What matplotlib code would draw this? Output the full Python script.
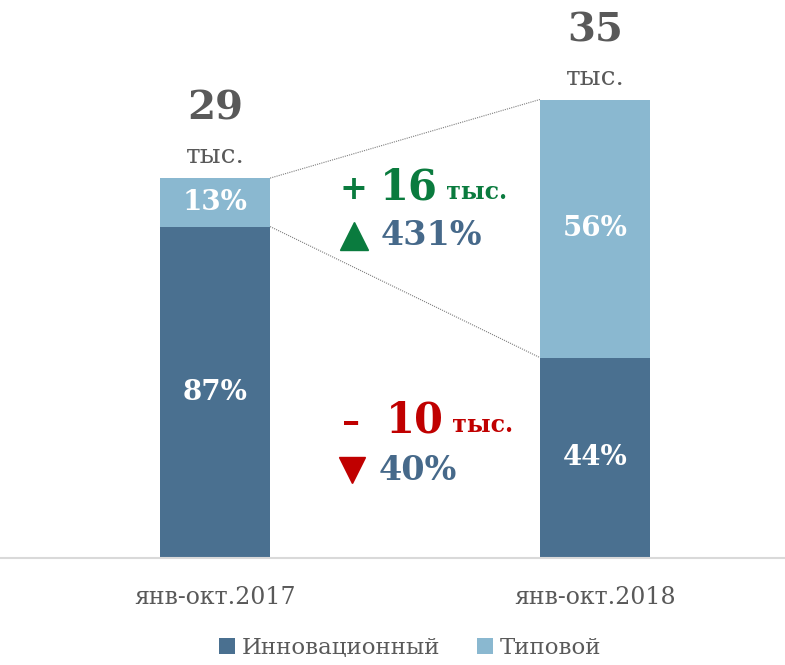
import matplotlib.pyplot as plt
from matplotlib.offsetbox import TextArea, HPacker, AnnotationBbox
import numpy as np

# values, thousand
periods = ["янв-окт.2017", "янв-окт.2018"]
innov = [25.3, 15.3]
typical = [3.7, 19.7]
innov_pct = ["87%", "44%"]
typical_pct = ["13%", "56%"]
totals = ["29", "35"]
series_names = ["Инновационный", "Типовой"]
delta_typ = ["+ ", "16", " тыс.", "431%"]
delta_inn = ["–  ", "10", " тыс.", "40%"]

dark = "#4A7090"
light = "#8AB8D0"
grey = "#595959"
green = "#0A7B3E"
red = "#C00000"
blue_txt = "#46698A"
FONT = "DejaVu Serif"
plt.rcParams["font.family"] = FONT

fig = plt.figure(figsize=(7.85, 6.65), dpi=100)
ax = fig.add_axes([0, 107 / 665, 1, 558 / 665])

x = np.arange(len(periods))
w = 0.29
totals_v = np.array(innov) + np.array(typical)

ax.bar(x, innov, w, color=dark, label=series_names[0])
ax.bar(x, typical, w, bottom=innov, color=light, label=series_names[1])

# connectors
ax.plot([x[0] + w / 2, x[1] - w / 2], [totals_v[0], totals_v[1]], ls=(0, (1, 1)), color="#7f7f7f", lw=0.8)
ax.plot([x[0] + w / 2, x[1] - w / 2], [innov[0], innov[1]], ls=(0, (1, 1)), color="#7f7f7f", lw=0.8)

for i in range(len(x)):
    ax.text(x[i], innov[i] / 2, innov_pct[i], ha="center", va="center", color="white",
            fontsize=20, fontweight="bold")
    ax.text(x[i], innov[i] + typical[i] / 2, typical_pct[i], ha="center", va="center", color="white",
            fontsize=20, fontweight="bold")
    ax.annotate(totals[i], (x[i], totals_v[i]), xytext=(0, 50), textcoords="offset points",
                ha="center", va="center", fontsize=29, fontweight="bold", color=grey)
    ax.annotate("тыс.", (x[i], totals_v[i]), xytext=(0, 16), textcoords="offset points",
                ha="center", va="center", fontsize=19, color=grey)


def delta_row(parts, color, xy, sizes):
    boxes = [TextArea(p, textprops=dict(color=color, fontsize=s, fontweight="bold", family=FONT))
             for p, s in zip(parts, sizes)]
    pack = HPacker(children=boxes, align="baseline", pad=0, sep=0)
    ab = AnnotationBbox(pack, xy, xycoords="data", box_alignment=(0, 0.5), frameon=False)
    ax.add_artist(ab)


def pct_row(marker, mcolor, txt, xy, ms):
    ax.plot(xy[0] + 0.035, xy[1], marker=marker, color=mcolor, ms=ms, ls="none")
    ax.text(xy[0] + 0.105, xy[1], txt, ha="left", va="center", color=blue_txt,
            fontsize=24, fontweight="bold")


delta_row(delta_typ[:3], green, (0.33, 28.3), [24, 30, 17])
pct_row("^", green, delta_typ[3], (0.33, 24.6), 20)
delta_row(delta_inn[:3], red, (0.335, 10.5), [26, 30, 17])
pct_row("v", red, delta_inn[3], (0.325, 6.7), 19)

ax.set_xlim(-215 / 380, 570 / 380)
ax.set_ylim(0, 558 / 13.1)
for s in ["top", "left", "right"]:
    ax.spines[s].set_visible(False)
ax.spines["bottom"].set_color("#d9d9d9")
ax.spines["bottom"].set_linewidth(1.5)
ax.set_yticks([])
ax.set_xticks(x)
ax.set_xticklabels(periods, fontsize=17, color=grey)
ax.tick_params(axis="x", length=0, pad=20)

fig.legend(loc="center", bbox_to_anchor=(410 / 785, 1 - 648 / 665), ncol=2, frameon=False,
           fontsize=16.5, handlelength=0.7, handleheight=0.7, handletextpad=0.3, columnspacing=1.6,
           labelcolor=grey)

fig.savefig("out.png", dpi=100)
